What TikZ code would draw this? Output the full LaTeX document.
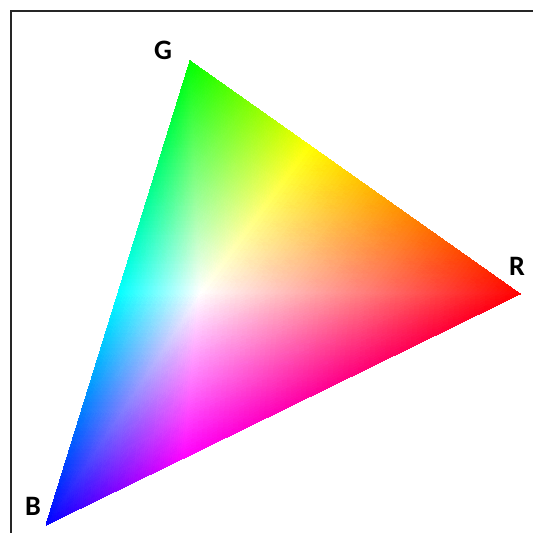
\documentclass[tikz,border=0pt]{standalone}
\usepackage{fontspec}
\setmainfont{Carlito}
\usepackage{pgfplots}
\pgfplotsset{compat=1.18}
\usetikzlibrary{positioning}

\tikzset{vlabel/.style={font=\fontsize{16}{19}\selectfont\bfseries, inner sep=0pt}}

\begin{document}
\begin{tikzpicture}
    % Canvas
    \useasboundingbox (0,0) rectangle (10.66,10.66);

    % Frame (only left and top edge visible)
    \draw[line width=1pt, black!85] (0.22,0) -- (0.22,10.44) -- (10.66,10.44);

    % Colour triangle: white centre, hues along the border
    \begin{axis}[at={(0,0)}, anchor=south west, x=1cm, y=1cm,
        xmin=0, xmax=10.66, ymin=0, ymax=10.66, hide axis, clip=false]
    \addplot[patch, shader=interp, mesh/color input=explicit] table[meta=c] {
        x     y     c
        4.00  4.80  rgb=1,1,1
        3.80  9.44  rgb=0,1,0
        6.18  7.76  rgb=1,1,0
        4.00  4.80  rgb=1,1,1
        6.18  7.76  rgb=1,1,0
        10.40 4.78  rgb=1,0,0
        4.00  4.80  rgb=1,1,1
        10.40 4.78  rgb=1,0,0
        3.68  1.50  rgb=1,0,1
        4.00  4.80  rgb=1,1,1
        3.68  1.50  rgb=1,0,1
        0.92  0.16  rgb=0,0,1
        4.00  4.80  rgb=1,1,1
        0.92  0.16  rgb=0,0,1
        2.36  4.80  rgb=0,1,1
        4.00  4.80  rgb=1,1,1
        2.36  4.80  rgb=0,1,1
        3.80  9.44  rgb=0,1,0
    };
    \end{axis}

    % Vertex labels
    \node[vlabel] (labG) at (3.26,9.66) {G};
    \node[vlabel] (labR) at (10.34,5.34) {R};
    \node[vlabel] (labB) at (0.66,0.54) {B};
\end{tikzpicture}
\end{document}
